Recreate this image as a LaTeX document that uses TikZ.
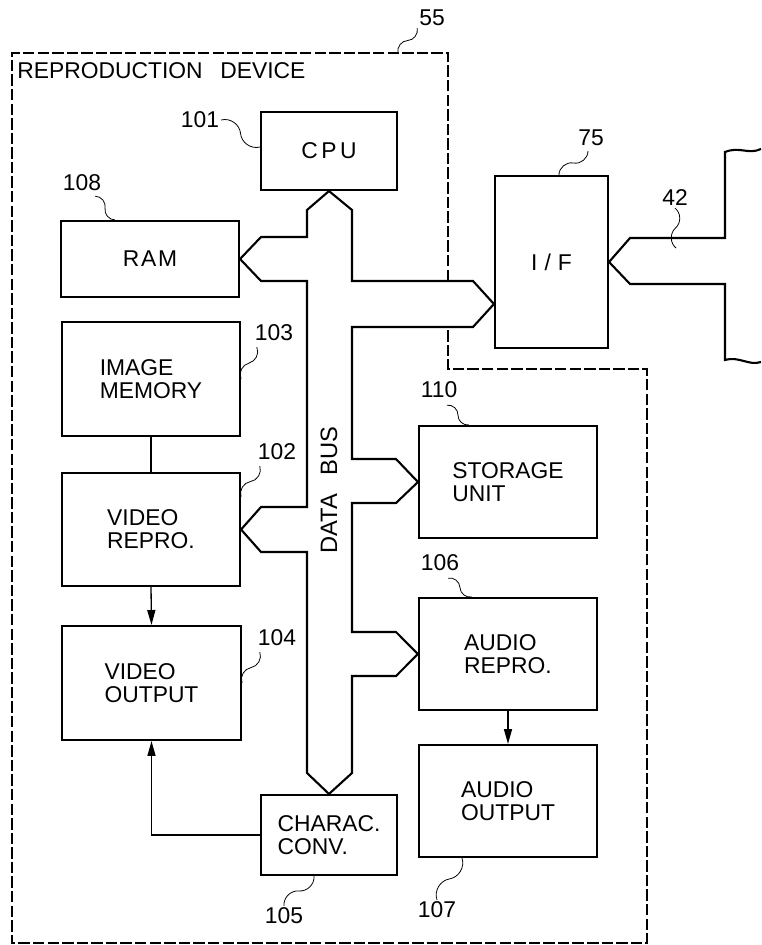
\documentclass[tikz,border=0pt]{standalone}
\usepackage{fontspec}
\setmainfont{Liberation Sans}
\usetikzlibrary{arrows.meta, calc}

\newcommand{\leader}[2]{\draw[lead] (#1) to[bend left=50] ($(#1)!0.5!(#2)$) to[bend right=50] (#2);}

\begin{document}
\begin{tikzpicture}[x=0.02cm, y=-0.02cm,
  every node/.style={inner sep=0pt, font=\fontsize{13}{13}\selectfont},
  blk/.style={draw, line width=1.2pt, align=left},
  num/.style={inner sep=1pt},
  bus/.style={line width=1.2pt, line join=miter},
  lead/.style={line width=0.45pt},
  arr/.style={line width=0.75pt, -{Triangle[length=8.5pt,width=4.6pt]}},
  frame/.style={line width=0.6pt, dash pattern=on 6.5pt off 1.8pt}]
  \useasboundingbox (0,0) rectangle (761,945);
  \def\bl{307}
  \def\br{352}

  % frame of the reproduction device
  \draw[frame] (448,281) -- (448,53) -- (12,53) -- (12,943) -- (647,943)
               -- (647,369) -- (448,369) -- (448,328);
  \coordinate (f55) at (398,53);
  \node[anchor=west] (title) at (17,71) {REPRODUCTION\hspace{0.5em} DEVICE};

  % blocks
  \foreach \nm/\x/\y/\w/\h/\txt in {
      cpu/329/151/136/78/{C\kern2pt P\kern2pt U},
      ram/150/259/178/76/{R\kern1pt A\kern1pt M},
      iface/551.5/262/113/172/{I\kern4pt/\kern4pt F},
      imgmem/151/379/178/114/{IMAGE\\MEMORY},
      vidrep/151/529.5/178/113/{VIDEO\\REPRO.},
      vidout/151.5/683/179/114/{VIDEO\\OUTPUT},
      charconv/329/835/136/80/{CHARAC.\\CONV.},
      storage/508/482/178/112/{STORAGE\\UNIT},
      audrep/508/654/178/112/{AUDIO\\REPRO.},
      audout/508/801/178/112/{AUDIO\\OUTPUT}}
    \node[blk, minimum width=\w*0.02cm, minimum height=\h*0.02cm] (\nm) at (\x,\y) {\txt};

  % reference numerals
  \foreach \nm/\x/\y in {55/432/18, 101/200/120, 108/82/183, 75/591/138,
      42/675/198, 103/274/333, 102/277/452, 104/277/638, 105/284/916,
      110/439/390, 106/440/563, 107/437/910}
    \node[num] (l\nm) at (\x,\y) {\nm};

  % data bus
  \draw[bus] (cpu.south) -- (\br,210) -- (\br,281) -- (473,281)
    -- ($(iface.west)+(0,42)$) -- (473,327) -- (\br,327)
    -- (\br,459) -- (396,459) -- (storage.west) -- (396,503) -- (\br,503)
    -- (\br,632) -- (396,632) -- (audrep.west) -- (396,676) -- (\br,676)
    -- (\br,773) -- (charconv.north) -- (\bl,773)
    -- (\bl,552) -- (261,552) -- (vidrep.east) -- (261,507) -- (\bl,507)
    -- (\bl,281) -- (261,281) -- (ram.east) -- (261,237) -- (\bl,237)
    -- (\bl,210) -- cycle;
  \node[rotate=90, font=\fontsize{13.5}{13.5}\selectfont] (dbus) at (329,490) {DATA\hspace{0.5em} BUS};

  % line 42 to the outside
  \draw[bus] (iface.east) -- (630,238) -- (725,238) -- (725,152)
    .. controls (740,146) and (748,155) .. (761,149);
  \draw[bus] (iface.east) -- (630,284) -- (725,284) -- (725,360)
    .. controls (740,356) and (748,366) .. (761,362);
  \coordinate (c42) at (676,248);

  % signal lines
  \draw[line width=0.75pt] (imgmem.south) -- (vidrep.north);
  \draw[arr] (vidrep.south) -- (vidout.north);
  \draw[arr] (audrep.south) -- (audout.north);
  \draw[arr] (charconv.west) -| (vidout.south);

  % leaders
  \leader{f55}{l55.south west}
  \leader{l101.east}{$(cpu.west)+(0,-4)$}
  \leader{$(l108.south east)+(-8,3)$}{$(ram.north west)+(55,0)$}
  \leader{$(iface.north west)+(65,0)$}{$(l75.south)+(-3,3)$}
  \leader{l42.south}{c42}
  \leader{$(l103.south west)+(4,4)$}{imgmem.east}
  \leader{$(l102.south west)+(4,4)$}{$(vidrep.north east)+(0,25)$}
  \leader{$(l104.south west)+(4,4)$}{vidout.east}
  \leader{$(charconv.south)+(-15,0)$}{l105.north}
  \leader{$(l110.south)+(8,5)$}{$(storage.north west)+(51,0)$}
  \leader{$(l106.south)+(8,5)$}{$(audrep.north west)+(54,0)$}
  \leader{$(audout.south west)+(44,0)$}{l107.north}
\end{tikzpicture}
\end{document}
